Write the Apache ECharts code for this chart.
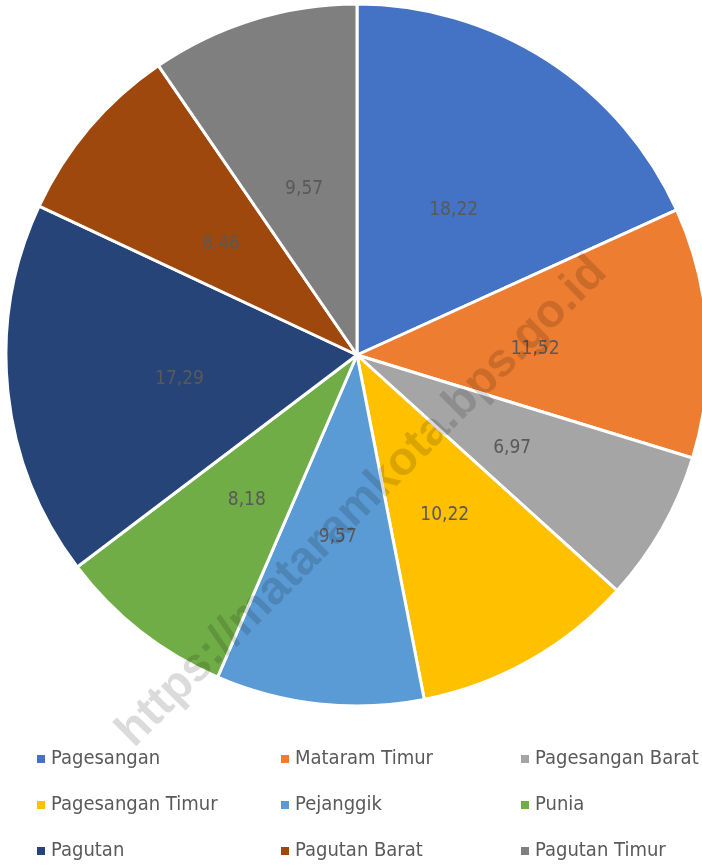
<!DOCTYPE html>
<html>
<head>
<meta charset="utf-8">
<script src="https://cdn.jsdelivr.net/npm/echarts@6/dist/echarts.min.js"></script>
<style>
  html, body { margin: 0; padding: 0; background: #fff; }
  #chart { width: 702px; height: 865px; }
</style>
</head>
<body>
<div id="chart"></div>
<script>
var names = ['Pagesangan', 'Mataram Timur', 'Pagesangan Barat', 'Pagesangan Timur', 'Pejanggik',
    'Punia', 'Pagutan', 'Pagutan Barat', 'Pagutan Timur'];
var values = [18.22, 11.52, 6.97, 10.22, 9.57, 8.18, 17.29, 8.46, 9.57];
var colors = ['#4472C4', '#ED7D31', '#A5A5A5', '#FFC000', '#5B9BD5', '#70AD47', '#264478', '#9E480E', '#7F7F7F'];

var narrow = "'DejaVu Sans Condensed', 'Liberation Sans Narrow', sans-serif";

window.onload = function () {
    var chart = echarts.init(document.getElementById('chart'));

    var pieData = [];
    for (var i = 0; i < names.length; i++) {
        pieData.push({ value: values[i], name: names[i], itemStyle: { color: colors[i] } });
    }

    // legend in 3 columns, each column its own vertical legend
    function column(idx, left) {
        return {
            orient: 'vertical',
            left: left,
            top: 747,
            padding: 0,
            itemWidth: 10,
            itemHeight: 10,
            itemGap: 22,
            icon: 'rect',
            data: idx.map(function (k) { return names[k]; }),
            textStyle: { fontFamily: narrow, fontSize: 20, color: '#595959', lineHeight: 24 }
        };
    }

    var option = {
        animation: false,
        color: colors,
        legend: [
            column([0, 3, 6], 35),
            column([1, 4, 7], 279),
            column([2, 5, 8], 519)
        ],
        series: [
            {
                type: 'pie',
                center: [357, 355],
                radius: [0, 351],
                startAngle: 90,
                clockwise: true,
                data: pieData,
                itemStyle: { borderColor: '#fff', borderWidth: 3 },
                label: {
                    position: 'inside',
                    offset: [0, 5],
                    formatter: function (p) { return p.value.toFixed(2).replace('.', ','); },
                    fontFamily: narrow,
                    fontSize: 19,
                    color: '#595959'
                },
                labelLine: { show: false },
                emphasis: { disabled: true }
            }
        ],
        graphic: [
            {
                type: 'text',
                x: 362,
                y: 502,
                rotation: Math.PI / 4,
                z: 100,
                silent: true,
                style: {
                    text: 'https://mataramkota.bps.go.id',
                    fontFamily: 'Arial, Liberation Sans, sans-serif',
                    fontWeight: 'bold',
                    fontSize: 47,
                    fill: 'rgba(0,0,0,0.14)',
                    align: 'center',
                    verticalAlign: 'middle'
                }
            }
        ]
    };
    chart.setOption(option);
};
</script>
</body>
</html>
